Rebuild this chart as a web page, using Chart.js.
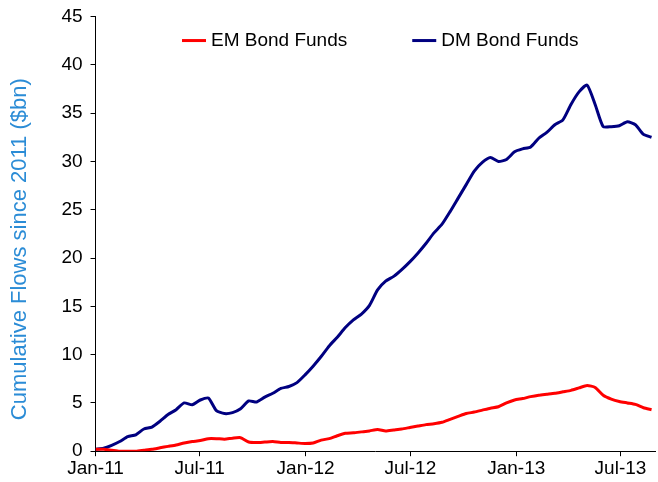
<!DOCTYPE html>
<html>
<head>
<meta charset="utf-8">
<script src="https://cdn.jsdelivr.net/npm/chart.js@4.4.1/dist/chart.umd.min.js"></script>
<style>
  body { margin: 0; background: #fff; }
  #wrap { width: 658px; height: 482px; position: relative; }
</style>
</head>
<body>
<div id="wrap"><canvas id="flowsChart"></canvas></div>
<script>
  // weekly data, sampled every 2 weeks starting Jan 2011
  const weekIndex = [0, 2, 4, 6, 8, 10, 12, 14, 16, 18, 20, 22, 24, 26, 28, 30, 32, 34, 36, 38,
    40, 42, 44, 46, 48, 50, 52, 54, 56, 58, 60, 62, 64, 66, 68, 70, 72, 74, 76, 78,
    80, 82, 84, 86, 88, 90, 92, 94, 96, 98, 100, 102, 104, 106, 108, 110, 112, 114, 116, 118,
    120, 122, 124, 126, 128, 130, 132, 134, 136, 138];

  const emFlows = [0.2, 0.2, 0.1, 0.0, 0.0, 0.0, 0.1, 0.2, 0.35, 0.5,
    0.65, 0.85, 1.0, 1.1, 1.3, 1.3, 1.25, 1.35, 1.4, 0.95,
    0.9, 0.95, 1.0, 0.9, 0.9, 0.85, 0.8, 0.85, 1.15, 1.3,
    1.6, 1.85, 1.9, 2.0, 2.1, 2.25, 2.1, 2.2, 2.3, 2.45,
    2.6, 2.75, 2.85, 3.0, 3.3, 3.6, 3.9, 4.05, 4.25, 4.45,
    4.6, 5.0, 5.3, 5.45, 5.65, 5.8, 5.9, 6.0, 6.15, 6.3,
    6.55, 6.8, 6.6, 5.8, 5.4, 5.15, 5.0, 4.85, 4.5, 4.3];

  const dmFlows = [0.2, 0.3, 0.6, 1.0, 1.5, 1.7, 2.3, 2.5, 3.1, 3.8,
    4.3, 5.0, 4.8, 5.3, 5.5, 4.2, 3.9, 4.0, 4.4, 5.2,
    5.1, 5.6, 6.0, 6.5, 6.7, 7.1, 7.9, 8.8, 9.8, 10.9,
    11.8, 12.8, 13.6, 14.2, 15.1, 16.7, 17.6, 18.1, 18.8, 19.6,
    20.5, 21.5, 22.6, 23.5, 24.8, 26.2, 27.6, 29.0, 29.9, 30.4,
    30.0, 30.2, 31.0, 31.3, 31.5, 32.4, 33.0, 33.8, 34.3, 35.9,
    37.2, 37.9, 35.9, 33.6, 33.6, 33.7, 34.1, 33.8, 32.8, 32.5];

  // x axis in days since 1 Jan 2011
  const tickDays = [0, 181, 365, 547, 731, 912];
  const tickLabels = ["Jan-11", "Jul-11", "Jan-12", "Jul-12", "Jan-13", "Jul-13"];
  const yTicks = [0, 5, 10, 15, 20, 25, 30, 35, 40, 45];

  const toPoints = vals => vals.map((v, i) => ({ x: weekIndex[i] * 7, y: v }));

  const FONT = "'Liberation Sans', Arial, sans-serif";

  // legend drawn inside the plot, near the top
  const innerLegend = {
    id: 'innerLegend',
    afterDraw(chart) {
      const ctx = chart.ctx;
      const area = chart.chartArea;
      const sample = 24, gap = 5, itemGap = 65;
      ctx.save();
      ctx.font = "19px " + FONT;
      ctx.textBaseline = 'middle';
      const items = chart.data.datasets.map(ds => ({
        text: ds.label, color: ds.borderColor, w: sample + gap + ctx.measureText(ds.label).width
      }));
      const total = items.reduce((s, it) => s + it.w, 0) + itemGap * (items.length - 1);
      let x = (area.left + area.right) / 2 + 5 - total / 2;
      const y = area.top + 24;
      items.forEach(it => {
        ctx.strokeStyle = it.color;
        ctx.lineWidth = 3;
        ctx.beginPath();
        ctx.moveTo(x, y);
        ctx.lineTo(x + sample, y);
        ctx.stroke();
        ctx.fillStyle = '#000';
        ctx.fillText(it.text, x + sample + gap, y);
        x += it.w + itemGap;
      });
      ctx.restore();
    }
  };

  new Chart(document.getElementById('flowsChart'), {
    type: 'line',
    data: {
      datasets: [{
        label: "EM Bond Funds",
        data: toPoints(emFlows),
        borderColor: "#FF0000",
        backgroundColor: "#FF0000",
        borderWidth: 3,
        pointRadius: 0,
        tension: 0.2
      }, {
        label: "DM Bond Funds",
        data: toPoints(dmFlows),
        borderColor: "#000080",
        backgroundColor: "#000080",
        borderWidth: 3,
        pointRadius: 0,
        tension: 0.2
      }]
    },
    options: {
      responsive: true,
      maintainAspectRatio: false,
      animation: false,
      layout: { padding: { left: 0, right: 3, top: 0, bottom: 1 } },
      plugins: {
        legend: { display: false },
        tooltip: { enabled: false }
      },
      scales: {
        x: {
          type: 'linear',
          min: 0,
          max: 972,
          afterBuildTicks: scale => { scale.ticks = tickDays.map(v => ({ value: v })); },
          ticks: {
            color: '#000',
            font: { family: FONT, size: 19 },
            padding: 1,
            maxRotation: 0,
            callback: val => tickLabels[tickDays.indexOf(val)]
          },
          grid: { drawOnChartArea: false, color: '#000', tickLength: 5 },
          border: { color: '#000', width: 1 }
        },
        y: {
          min: 0,
          max: 45,
          afterBuildTicks: scale => { scale.ticks = yTicks.map(v => ({ value: v })); },
          ticks: {
            color: '#000',
            font: { family: FONT, size: 19, lineHeight: 0.9 },
            padding: 8
          },
          grid: { drawOnChartArea: false, color: '#000', tickLength: 5 },
          border: { color: '#000', width: 1 },
          title: {
            display: true,
            // trailing spaces nudge the text toward the bottom as in the original
            text: "Cumulative Flows since 2011 ($bn)\u00a0\u00a0\u00a0\u00a0\u00a0",
            color: '#2B8CD6',
            font: { family: FONT, size: 22 },
            padding: { top: 7, bottom: 20 }
          }
        }
      }
    },
    plugins: [innerLegend]
  });
</script>
</body>
</html>
